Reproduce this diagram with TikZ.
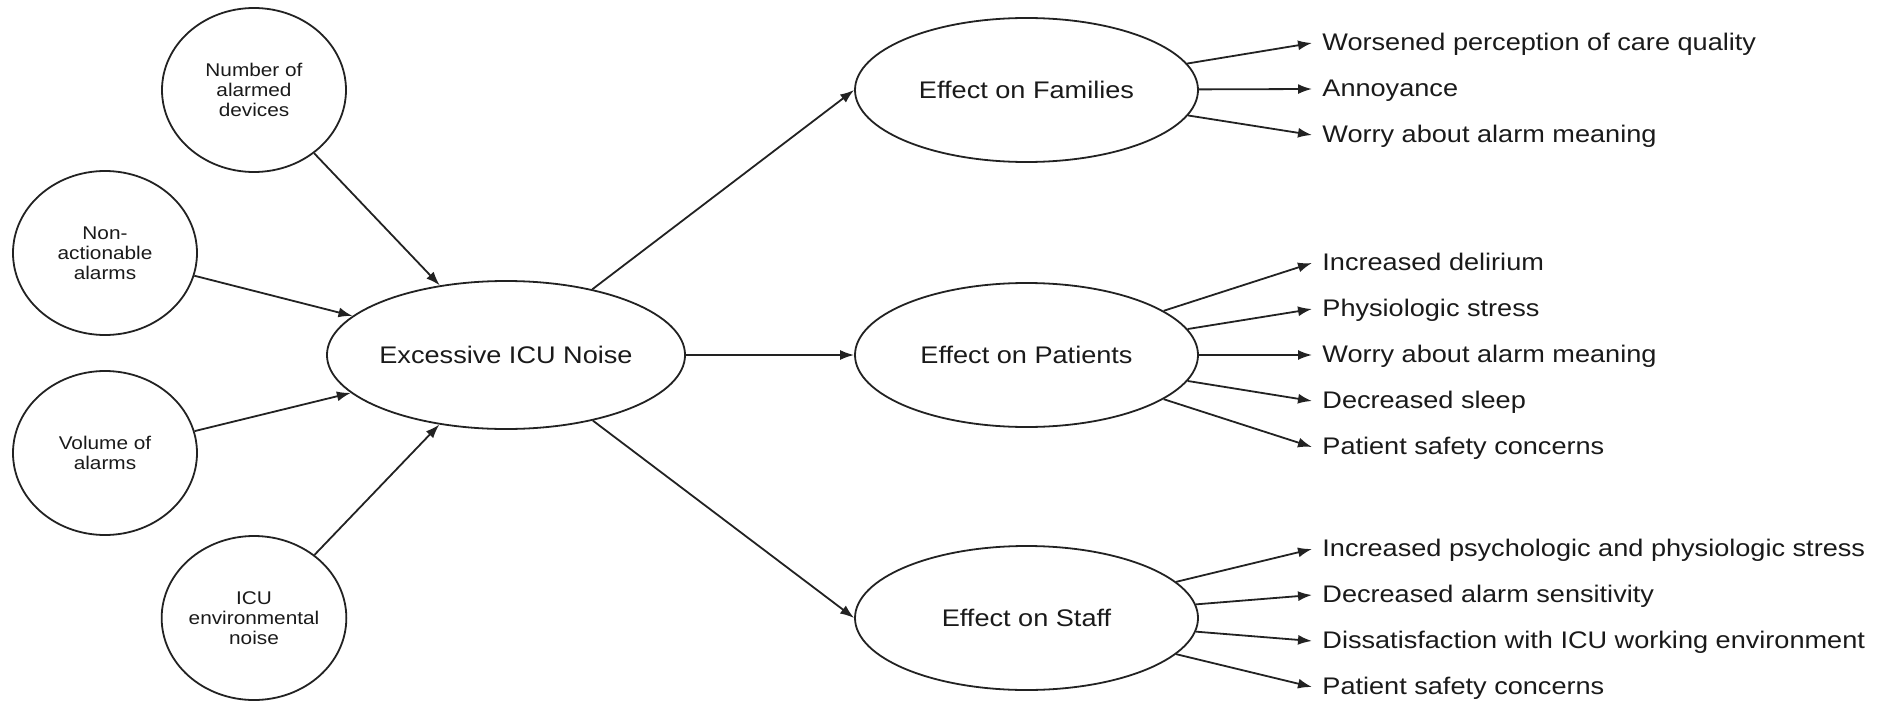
\documentclass[tikz,border=0pt]{standalone}
\usepackage{fontspec}
\setmainfont{Liberation Sans}[FakeStretch=1.13]
\usetikzlibrary{arrows.meta,shapes.geometric}
\definecolor{ink}{HTML}{1A1A1A}
\definecolor{linec}{HTML}{222222}
\begin{document}
\begin{tikzpicture}[x=0.5pt,y=-0.5pt,
  arr/.style={draw=linec,line width=0.9pt,-{Latex[length=7pt,width=5pt]}},
  effell/.style={ellipse,draw=linec,line width=0.9pt,inner sep=0pt,
    minimum width=171.5pt,minimum height=72pt,text=ink,
    font=\fontsize{12}{14}\selectfont},
  mainell/.style={effell,minimum width=173pt,minimum height=74pt},
  circ/.style={ellipse,draw=linec,line width=0.9pt,inner sep=0pt,
    minimum width=92pt,minimum height=82pt,align=center,text=ink,
    font=\fontsize{9.2}{10}\selectfont},
  lab/.style={anchor=west,inner xsep=5pt,inner ysep=0pt,text=ink,
    text height=0.95em,text depth=0.23em,
    font=\fontsize{12}{14}\selectfont}
]
\useasboundingbox (0,0) rectangle (1883,701);

% cause nodes
\node[circ] (c1) at (254,90) {Number of\\alarmed\\devices};
\node[circ] (c2) at (105,253) {Non-\\actionable\\alarms};
\node[circ] (c3) at (105,453) {Volume of\\alarms};
\node[circ] (c4) at (254,618) {ICU\\environmental\\noise};

% central node
\node[mainell] (ex) at (506,355) {Excessive ICU Noise};

% effect nodes
\node[effell] (fam) at (1026.5,90) {Effect on Families};
\node[effell] (pat) at (1026.5,355) {Effect on Patients};
\node[effell] (sta) at (1026.5,618) {Effect on Staff};

% outcome labels
\node[lab] (f1) at (1312,43) {Worsened perception of care quality};
\node[lab] (f2) at (1312,89) {Annoyance};
\node[lab] (f3) at (1312,135) {Worry about alarm meaning};

\node[lab] (p1) at (1312,263) {Increased delirium};
\node[lab] (p2) at (1312,309) {Physiologic stress};
\node[lab] (p3) at (1312,355) {Worry about alarm meaning};
\node[lab] (p4) at (1312,401) {Decreased sleep};
\node[lab] (p5) at (1312,447) {Patient safety concerns};

\node[lab] (s1) at (1312,549) {Increased psychologic and physiologic stress};
\node[lab] (s2) at (1312,595) {Decreased alarm sensitivity};
\node[lab] (s3) at (1312,641) {Dissatisfaction with ICU working environment};
\node[lab] (s4) at (1312,687) {Patient safety concerns};

% connectors
\foreach \c in {c1,c2,c3,c4} \draw[arr] (\c) -- (ex);
\foreach \e in {fam,pat,sta} \draw[arr] (ex) -- (\e.west);
\foreach \l in {f1,f2,f3} \draw[arr] (fam) -- (\l.west);
\foreach \l in {p1,p2,p3,p4,p5} \draw[arr] (pat) -- (\l.west);
\foreach \l in {s1,s2,s3,s4} \draw[arr] (sta) -- (\l.west);
\end{tikzpicture}
\end{document}
